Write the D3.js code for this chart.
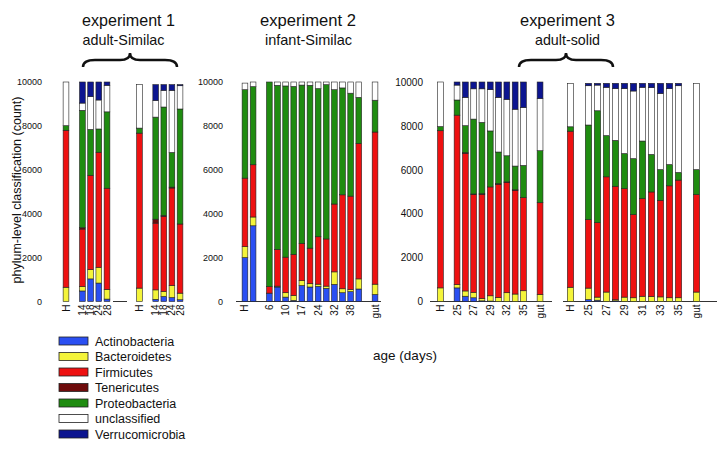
<!DOCTYPE html>
<html>
<head>
<meta charset="utf-8">
<script src="https://cdn.jsdelivr.net/npm/d3@7"></script>
<style>
  body { margin: 0; background: #fff; }
  svg text { font-family: "Liberation Sans", Arial, sans-serif; fill: #111; }
</style>
</head>
<body>
<svg id="chart" width="720" height="450"></svg>
<script>
// phyla (stack order, bottom to top)
const phyla = ["Actinobacteria", "Bacteroidetes", "Firmicutes", "Tenericutes", "Proteobacteria", "unclassified", "Verrucomicrobia"]
const phylaColors = ["#2a4ff2", "#f4f43a", "#ee1111", "#6e0b0b", "#1f8c10", "#ffffff", "#0c1590"]

// experiment 1, adult-Similac (two mice). null = empty slot
const exp1aDays = ["H", null, "14", "18", "24", "28"]
const exp1aCounts = [
    [0, 650, 7150, 0, 210, 1990, 0], null,
    [480, 200, 2620, 60, 5350, 330, 960],
    [1030, 420, 4300, 0, 2090, 1490, 670],
    [840, 720, 5240, 0, 1060, 1320, 820],
    [110, 440, 4610, 0, 3480, 1210, 150]
]
const exp1bDays = ["H", null, "14", "18", "24", "28"]
const exp1bCounts = [
    [0, 610, 7060, 0, 230, 1980, 0], null,
    [100, 430, 3040, 180, 4650, 760, 720],
    [230, 230, 3420, 40, 4940, 760, 260],
    [180, 550, 4440, 40, 1580, 2830, 260],
    [80, 300, 3150, 0, 5240, 1060, 50]
]

// experiment 2, infant-Similac
const exp2Days = ["H", "", null, "6", "", "10", "", "17", "", "24", "", "32", "", "38", "", null, "gut"]
const exp2Counts = [
    [2000, 500, 3120, 0, 4030, 300, 0],
    [3450, 400, 2380, 0, 3560, 210, 0], null,
    [380, 0, 300, 0, 9320, 0, 0],
    [660, 40, 1670, 0, 7480, 150, 0],
    [200, 200, 1620, 0, 7800, 180, 0],
    [50, 230, 1870, 0, 7650, 200, 0],
    [730, 220, 1690, 0, 7220, 140, 0],
    [660, 150, 1620, 0, 7420, 150, 0],
    [690, 100, 2160, 0, 6750, 300, 0],
    [600, 100, 2150, 0, 7030, 120, 0],
    [780, 570, 3090, 0, 5210, 350, 0],
    [400, 180, 4280, 0, 4870, 270, 0],
    [450, 90, 4260, 0, 4690, 510, 0],
    [570, 460, 6170, 0, 2100, 700, 0], null,
    [320, 470, 6930, 0, 1450, 830, 0]
]

// experiment 3, adult-solid (two mice)
const exp3aDays = ["H", null, "25", "", "27", "", "29", "", "32", "", "35", null, "gut"]
const exp3aCounts = [
    [0, 620, 7160, 0, 190, 2030, 0], null,
    [620, 150, 7720, 0, 690, 680, 140],
    [240, 240, 6270, 30, 1230, 1290, 700],
    [170, 250, 4450, 30, 3410, 1380, 310],
    [30, 110, 4740, 30, 3250, 1530, 310],
    [20, 240, 4960, 0, 2550, 1880, 350],
    [0, 180, 5160, 30, 1440, 2490, 700],
    [0, 400, 5020, 30, 1190, 2570, 790],
    [0, 340, 4720, 30, 1080, 2590, 1240],
    [0, 490, 4240, 0, 1470, 2640, 1160], null,
    [0, 320, 4180, 0, 2370, 2380, 750]
]
const exp3bDays = ["H", null, "25", "", "27", "", "29", "", "31", "", "33", "", "35", null, "gut"]
const exp3bCounts = [
    [0, 650, 7110, 0, 200, 1980, 0], null,
    [90, 520, 3120, 0, 4310, 1790, 110],
    [60, 140, 3390, 0, 5100, 1170, 80],
    [0, 430, 5250, 0, 1880, 2200, 180],
    [30, 50, 5170, 0, 2090, 2360, 240],
    [0, 200, 4940, 0, 1600, 2960, 240],
    [0, 170, 3790, 0, 2550, 3080, 350],
    [0, 240, 4450, 0, 2620, 2450, 180],
    [0, 230, 4760, 0, 1710, 3040, 200],
    [0, 210, 4400, 0, 1400, 3470, 460],
    [0, 170, 5100, 0, 970, 3460, 240],
    [0, 170, 5360, 0, 350, 3950, 110], null,
    [0, 430, 4440, 0, 1140, 3930, 0]
]

const yTicks = [0, 2000, 4000, 6000, 8000, 10000]

const svg = d3.select('#chart')

const y = d3.scaleLinear().domain([0, 10000]).range([301.5, 82])

// layout of each bar group: x range of the slots and the baseline extent
const groups = [
    { days: exp1aDays, counts: exp1aCounts, range: [61.9, 111.1], base: null },
    { days: exp1bDays, counts: exp1bCounts, range: [135.4, 184.1], base: [113, 127] },
    { days: exp2Days, counts: exp2Counts, range: [240.9, 379.1], base: [236, 381] },
    { days: exp3aDays, counts: exp3aCounts, range: [436.3, 544.2], base: [430, 552] },
    { days: exp3bDays, counts: exp3bCounts, range: [566, 701], base: [563, 717] }
]

const stack = d3.stack().keys(d3.range(phyla.length))

for (let g of groups) {
    const x = d3.scaleBand()
        .domain(d3.range(g.days.length))
        .range(g.range)
        .paddingInner(0.3)
        .paddingOuter(0.15)

    const rows = g.counts.map((c, i) => c ? Object.assign({ slot: i }, c) : null).filter(d => d)
    const series = stack(rows)

    const grp = svg.append('g')

    if (g.base) {
        grp.append('line')
            .attr('x1', g.base[0]).attr('x2', g.base[1])
            .attr('y1', y(0)).attr('y2', y(0))
            .attr('stroke', '#333').attr('stroke-width', 1)
    }

    grp.selectAll('.layer')
        .data(series)
        .join('g')
        .attr('class', 'layer')
        .attr('fill', d => phylaColors[d.key])
        .selectAll('rect')
        .data(d => d.filter(s => s[1] - s[0] > 0))
        .join('rect')
        .attr('x', d => x(d.data.slot))
        .attr('width', x.bandwidth())
        .attr('y', d => y(d[1]))
        .attr('height', d => y(d[0]) - y(d[1]))
        .attr('stroke', '#222')
        .attr('stroke-width', 0.6)

    // day labels, rotated
    grp.selectAll('.day')
        .data(g.days.map((d, i) => ({ label: d, slot: i })).filter(d => d.label))
        .join('text')
        .attr('class', 'day')
        .attr('transform', d => `translate(${x(d.slot) + x.bandwidth() / 2},${y(0) + 3}) rotate(-90)`)
        .attr('text-anchor', 'end')
        .attr('dy', '0.35em')
        .style('font-size', '10px')
        .text(d => d.label)
}

// y axes for the three panels
const axes = [{ x: 46, size: 9 }, { x: 227, size: 9 }, { x: 427, size: 10 }]
for (let ax of axes) {
    const a = svg.append('g')
        .attr('transform', `translate(${ax.x},0)`)
        .call(d3.axisLeft(y).tickValues(yTicks).tickSize(0).tickPadding(4).tickFormat(d3.format('d')))
    a.select('.domain').remove()
    a.selectAll('text').style('font-size', ax.size + 'px').style('font-family', '"Liberation Sans", Arial, sans-serif')
}

// y title
svg.append('text')
    .attr('transform', 'translate(21,190) rotate(-90)')
    .attr('text-anchor', 'middle')
    .style('font-size', '12.5px')
    .text('phylum-level classification (count)')

// x title
svg.append('text')
    .attr('x', 405).attr('y', 360)
    .attr('text-anchor', 'middle')
    .style('font-size', '13.5px')
    .text('age (days)')

// panel titles
const titles = [
    { t: 'experiment 1', s: 'adult-Similac', cx: 128.5, sx: 123.5, tw: 93, sw: 82 },
    { t: 'experiment 2', s: 'infant-Similac', cx: 308, sx: 308.5, tw: 96, sw: 87 },
    { t: 'experiment 3', s: 'adult-solid', cx: 567.5, sx: 567.5, tw: 95, sw: 65 }
]
for (let d of titles) {
    svg.append('text')
        .attr('x', d.cx - d.tw / 2).attr('y', 26)
        .attr('textLength', d.tw).attr('lengthAdjust', 'spacingAndGlyphs')
        .style('font-size', '17px')
        .text(d.t)
    svg.append('text')
        .attr('x', d.sx - d.sw / 2).attr('y', 45)
        .attr('textLength', d.sw).attr('lengthAdjust', 'spacingAndGlyphs')
        .style('font-size', '14.5px')
        .text(d.s)
}

// curly braces over the "adult" experiments
function brace(x0, x1, top, bottom) {
    const mid = (x0 + x1) / 2
    const h = top + (bottom - top) * 0.5
    return `M${x0},${bottom} Q${x0},${h} ${x0 + 12},${h} L${mid - 10},${h} Q${mid},${h} ${mid},${top} ` +
        `Q${mid},${h} ${mid + 10},${h} L${x1 - 12},${h} Q${x1},${h} ${x1},${bottom}`
}
svg.append('path').attr('d', brace(83, 177, 53, 67)).attr('fill', 'none').attr('stroke', '#111').attr('stroke-width', 2.5)
svg.append('path').attr('d', brace(519, 613, 53, 67)).attr('fill', 'none').attr('stroke', '#111').attr('stroke-width', 2.5)

// legend
const legend = svg.append('g').attr('transform', 'translate(59,337)')
const item = legend.selectAll('g')
    .data(phyla)
    .join('g')
    .attr('transform', (d, i) => `translate(0,${i * 15.5})`)
item.append('rect')
    .attr('width', 29).attr('height', 8)
    .attr('fill', (d, i) => phylaColors[i])
    .attr('stroke', '#222').attr('stroke-width', 0.8)
item.append('text')
    .attr('x', 36).attr('y', 8.5)
    .style('font-size', '12.5px')
    .text(d => d)
</script>
</body>
</html>
